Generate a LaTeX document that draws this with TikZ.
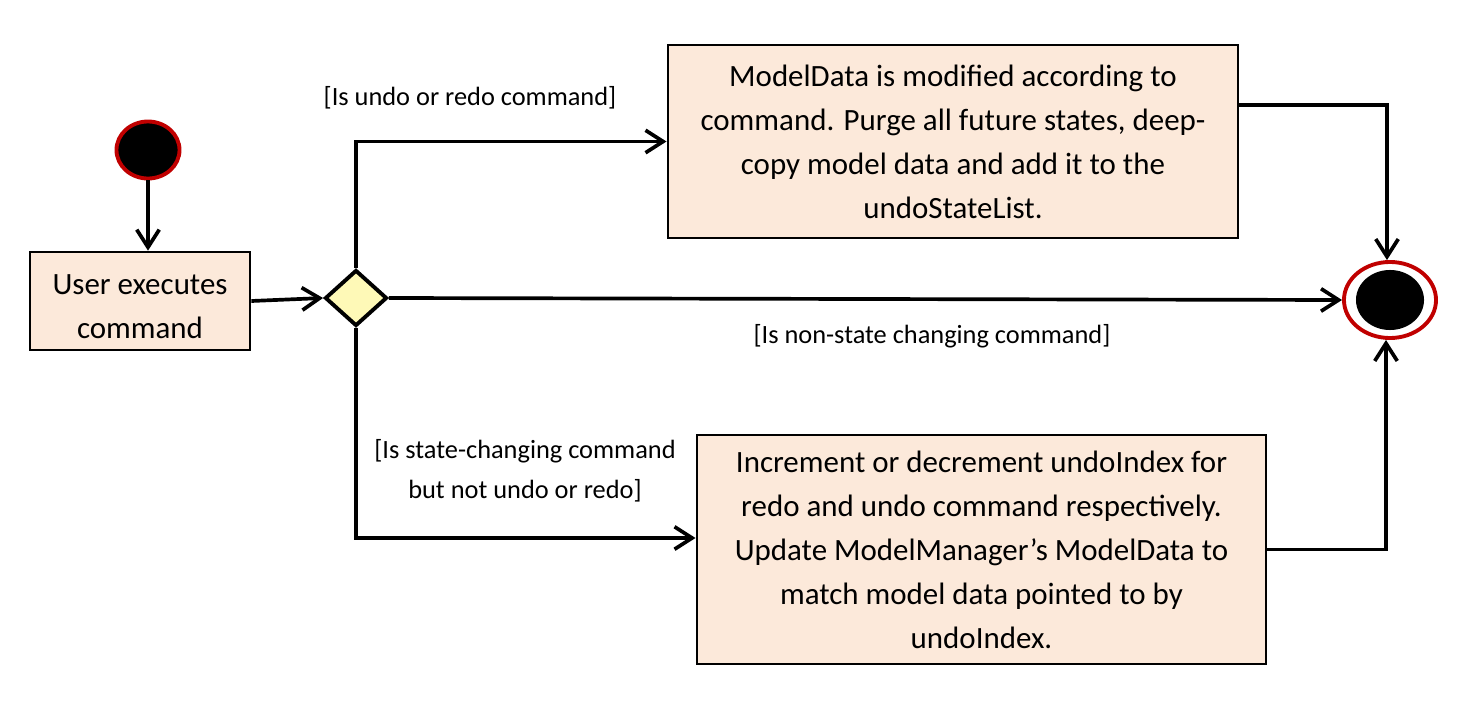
\documentclass[tikz,border=0pt]{standalone}
\usepackage{fontspec}
\setmainfont{Carlito}
\usepackage{tikz}
\usetikzlibrary{arrows.meta,shapes.geometric}

\definecolor{actfill}{RGB}{252,233,218}
\definecolor{decfill}{RGB}{254,249,183}
\definecolor{ringred}{RGB}{192,0,0}

\tikzset{
    action/.style={draw, line width=0.75pt, fill=actfill, align=center, inner sep=0pt,
        font=\fontsize{8.8}{12.5}\selectfont},
    decision/.style={diamond, draw, line width=1.1pt, fill=decfill, inner sep=0pt,
        minimum width=0.62cm, minimum height=0.56cm},
    startnode/.style={ellipse, draw=ringred, line width=1.1pt, fill=black, inner sep=0pt,
        minimum width=0.63cm, minimum height=0.57cm},
    endnode/.style={ellipse, draw=ringred, line width=1.1pt, fill=white, inner sep=0pt,
        minimum width=0.92cm, minimum height=0.76cm,
        path picture={\fill[black] (path picture bounding box.center) ellipse (0.34cm and 0.3cm);}},
    guard/.style={align=center, inner sep=0pt, font=\fontsize{7.5}{11.3}\selectfont},
}

\begin{document}
\begin{tikzpicture}[x=0.01cm, y=-0.01cm, >={Straight Barb[length=5pt,width=6.4pt]},
    every path/.style={line width=1.05pt}]
    \useasboundingbox (0,0) rectangle (1481,712);

    % Nodes
    \node [startnode] (start) at (148,150) {};
    \node [action, minimum width=2.2cm, minimum height=0.98cm] (exec) at (140,301)
        {\rule{0pt}{9pt}User executes\\command};
    \node [decision] (dec) at (356,298) {};
    \node [action, minimum width=5.7cm, minimum height=1.93cm] (modify) at (953,141.5)
        {ModelData is modified according to\\command. Purge all future states, deep-\\copy model data and add it to the\\undoStateList.};
    \node [action, minimum width=5.69cm, minimum height=2.29cm] (shift) at (981.5,549.5)
        {Increment or decrement undoIndex for\\redo and undo command respectively.\\Update ModelManager’s ModelData to\\match model data pointed to by\\undoIndex.};
    \node [endnode] (end) at (1390,300) {};

    % Guards
    \node [guard] (gundo)  at (470,98)  {[Is undo or redo command]};
    \node [guard] (gnon)   at (932,336) {[Is non-state changing command]};
    \node [guard] (gstate) at (525,471) {[Is state-changing command\\but not undo or redo]};

    % Paths
    \draw [->] (start) -- (start |- exec.north);
    \draw [->] (exec.east) -- (dec.west);
    \draw [->] (dec.north) |- (modify.west);
    \draw [->] (dec.east) -- (end.west);
    \draw [->] (dec.south) |- ([yshift=0.115cm]shift.west);
    \draw [->] ([yshift=0.365cm]modify.east) -| ([xshift=-0.03cm]end.north);
    \draw [->] (shift.east) -| ([xshift=-0.04cm]end.south);
\end{tikzpicture}
\end{document}
